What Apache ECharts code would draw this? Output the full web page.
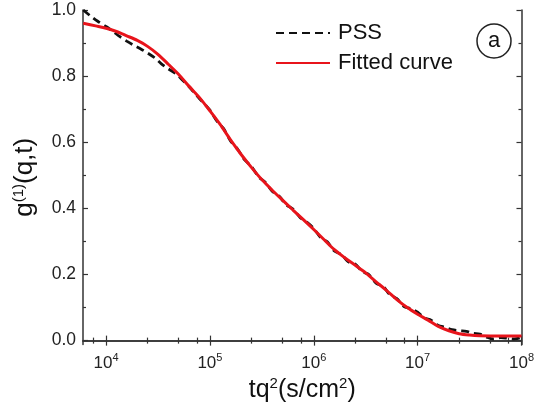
<!DOCTYPE html>
<html><head><meta charset="utf-8">
<script src="https://cdn.jsdelivr.net/npm/echarts@6/dist/echarts.min.js"></script>
<style>html,body{margin:0;padding:0;background:#fff}#c{width:537px;height:408px}</style>
</head><body><div id="c"></div>
<script>
const xMajorTicks = [1e4, 1e5, 1e6, 1e7, 1e8];
const xMinorTicks = [7.5e3, 2.5e4, 5e4, 7.5e4, 2.5e5, 5e5, 7.5e5, 2.5e6, 5e6, 7.5e6, 2.5e7, 5e7, 7.5e7];
const yMajorTicks = [0, 0.2, 0.4, 0.6, 0.8, 1.0];
const yMinorTicks = [0.1, 0.3, 0.5, 0.7, 0.9];

const pssX = [6.03e3, 7.08e3, 8.32e3,
  1.0e4, 1.17e4, 1.35e4, 1.58e4, 1.86e4, 2.14e4, 2.51e4, 2.95e4, 3.39e4, 3.98e4, 4.68e4, 5.37e4, 6.31e4, 7.41e4, 8.51e4,
  1.0e5, 1.17e5, 1.35e5, 1.58e5, 1.86e5, 2.14e5, 2.51e5, 2.95e5, 3.39e5, 3.98e5, 4.68e5, 5.37e5, 6.31e5, 7.41e5, 8.51e5,
  1.0e6, 1.17e6, 1.35e6, 1.58e6, 1.86e6, 2.14e6, 2.51e6, 2.95e6, 3.39e6, 3.98e6, 4.68e6, 5.37e6, 6.31e6, 7.41e6, 8.51e6,
  1.0e7, 1.17e7, 1.35e7, 1.58e7, 1.86e7, 2.14e7, 2.51e7, 2.95e7, 3.39e7, 3.98e7, 4.68e7, 5.37e7, 6.31e7, 7.41e7, 8.51e7,
  1.0e8];
const pssY = [1.000, 0.982, 0.966,
  0.950, 0.935, 0.920, 0.906, 0.893, 0.883, 0.870, 0.855, 0.838, 0.822, 0.808, 0.790, 0.768, 0.742, 0.722,
  0.697, 0.664, 0.642, 0.604, 0.578, 0.548, 0.527, 0.495, 0.480, 0.452, 0.436, 0.412, 0.398, 0.372, 0.359,
  0.339, 0.311, 0.299, 0.271, 0.260, 0.239, 0.231, 0.208, 0.200, 0.174, 0.163, 0.140, 0.127, 0.103, 0.097,
  0.086, 0.068, 0.062, 0.046, 0.040, 0.033, 0.030, 0.028, 0.022, 0.020, 0.010, 0.005, 0.009, 0.007, 0.005,
  0.010];

const fitX = [6.03e3, 7.94e3,
  1.0e4, 1.26e4, 1.58e4, 2.0e4, 2.51e4, 3.16e4, 3.98e4, 5.01e4, 6.31e4, 7.94e4,
  1.0e5, 1.26e5, 1.58e5, 2.0e5, 2.51e5, 3.16e5, 3.98e5, 5.01e5, 6.31e5, 7.94e5,
  1.0e6, 1.26e6, 1.58e6, 2.0e6, 2.51e6, 3.16e6, 3.98e6, 5.01e6, 6.31e6, 7.94e6,
  1.0e7, 1.26e7, 1.58e7, 2.0e7, 2.51e7, 3.16e7, 3.98e7, 6.31e7, 1.0e8];
const fitY = [0.960, 0.952,
  0.945, 0.935, 0.922, 0.908, 0.890, 0.866, 0.836, 0.805, 0.769, 0.735,
  0.695, 0.653, 0.607, 0.563, 0.524, 0.487, 0.455, 0.425, 0.395, 0.366,
  0.336, 0.305, 0.275, 0.250, 0.228, 0.205, 0.178, 0.152, 0.124, 0.100,
  0.080, 0.062, 0.043, 0.030, 0.021, 0.017, 0.015, 0.014, 0.014];

const FONT = 'Liberation Sans, Arial, sans-serif';
const AX = '#333';
const xMin = 6000, xMax = 1e8, yMin = -0.012, yMax = 1.0;

function xAxisDef(pos, ticks, len, showLine, showLabel) {
  return {
    type: 'log', logBase: 10, min: xMin, max: xMax, position: pos, gridIndex: 0,
    axisLine: { show: showLine, lineStyle: { color: AX, width: 1.5 } },
    axisTick: { show: true, inside: true, length: len, customValues: ticks, lineStyle: { color: AX, width: 1.2 } },
    axisLabel: showLabel ? {
      customValues: xMajorTicks, margin: 8, color: '#222', fontFamily: FONT, fontSize: 17,
      formatter: v => '10{s|' + Math.round(Math.log10(v)) + '}',
      rich: { s: { fontSize: 11, fontFamily: FONT, color: '#222', verticalAlign: 'top', padding: [0, 0, 10, 0] } }
    } : { show: false },
    splitLine: { show: false }, minorTick: { show: false }
  };
}
function yAxisDef(pos, ticks, len, showLine, showLabel) {
  return {
    type: 'value', min: yMin, max: yMax, position: pos, gridIndex: 0,
    axisLine: { show: showLine, lineStyle: { color: AX, width: 1.5 } },
    axisTick: { show: true, inside: true, length: len, customValues: ticks, lineStyle: { color: AX, width: 1.2 } },
    axisLabel: showLabel ? {
      customValues: yMajorTicks, margin: 7, color: '#222', fontFamily: FONT, fontSize: 17.5,
      formatter: v => v.toFixed(1)
    } : { show: false },
    splitLine: { show: false }
  };
}

const xs = [xAxisDef('bottom', xMajorTicks, 5, true, true), xAxisDef('bottom', xMinorTicks, 3, false, false),
            xAxisDef('top', xMajorTicks, 5, true, false), xAxisDef('top', xMinorTicks, 3, false, false)];
xs[0].name = 'tq{s|2}(s/cm{s|2})';
xs[0].nameLocation = 'middle';
xs[0].nameGap = 31;
xs[0].nameTextStyle = { fontFamily: FONT, fontSize: 25, color: '#111',
  rich: { s: { fontSize: 15, fontFamily: FONT, color: '#111', verticalAlign: 'top', padding: [0, 0, 13, 0] } } };
const ys = [yAxisDef('left', yMajorTicks, 5, true, true), yAxisDef('left', yMinorTicks, 3, false, false),
            yAxisDef('right', yMajorTicks, 5, true, false), yAxisDef('right', yMinorTicks, 3, false, false)];
ys[0].name = 'g{s|(1)}(q,t)';
ys[0].nameLocation = 'middle';
ys[0].nameGap = 44;
ys[0].nameTextStyle = { fontFamily: FONT, fontSize: 26, color: '#111',
  rich: { s: { fontSize: 15, fontFamily: FONT, color: '#111', verticalAlign: 'top', padding: [0, 0, 13, 0] } } };

const chart = echarts.init(document.getElementById('c'), null, { renderer: 'canvas' });
chart.setOption({
  animation: false,
  backgroundColor: '#fff',
  grid: { left: 83, right: 13.5, top: 10, bottom: 59, containLabel: false },
  xAxis: xs,
  yAxis: ys,
  legend: {
    orient: 'vertical', left: 275, top: 22, padding: 0, itemWidth: 54, itemHeight: 14, itemGap: 8,
    itemStyle: { opacity: 0 },
    textStyle: { fontFamily: FONT, fontSize: 22, color: '#111', padding: [0, 0, 0, 3] },
    data: ['PSS', 'Fitted curve']
  },
  graphic: [
    { type: 'circle', shape: { cx: 494, cy: 41, r: 17 }, style: { fill: 'none', stroke: '#222', lineWidth: 1.5 } },
    { type: 'text', x: 494, y: 41, style: { text: 'a', fontFamily: FONT, fontSize: 22, fill: '#111', align: 'center', verticalAlign: 'middle' } }
  ],
  series: [
    { name: 'PSS', type: 'line', xAxisIndex: 0, yAxisIndex: 0, showSymbol: false, symbol: 'none', smooth: 0.3, z: 2,
      data: pssX.map((x, i) => [x, pssY[i]]),
      lineStyle: { color: '#111', width: 2.8, type: [8, 5] }, itemStyle: { color: '#111' } },
    { name: 'Fitted curve', type: 'line', xAxisIndex: 0, yAxisIndex: 0, showSymbol: false, symbol: 'none', smooth: 0.3, z: 3,
      data: fitX.map((x, i) => [x, fitY[i]]),
      lineStyle: { color: '#e8141b', width: 3 }, itemStyle: { color: '#e8141b' } }
  ]
});
</script></body></html>
